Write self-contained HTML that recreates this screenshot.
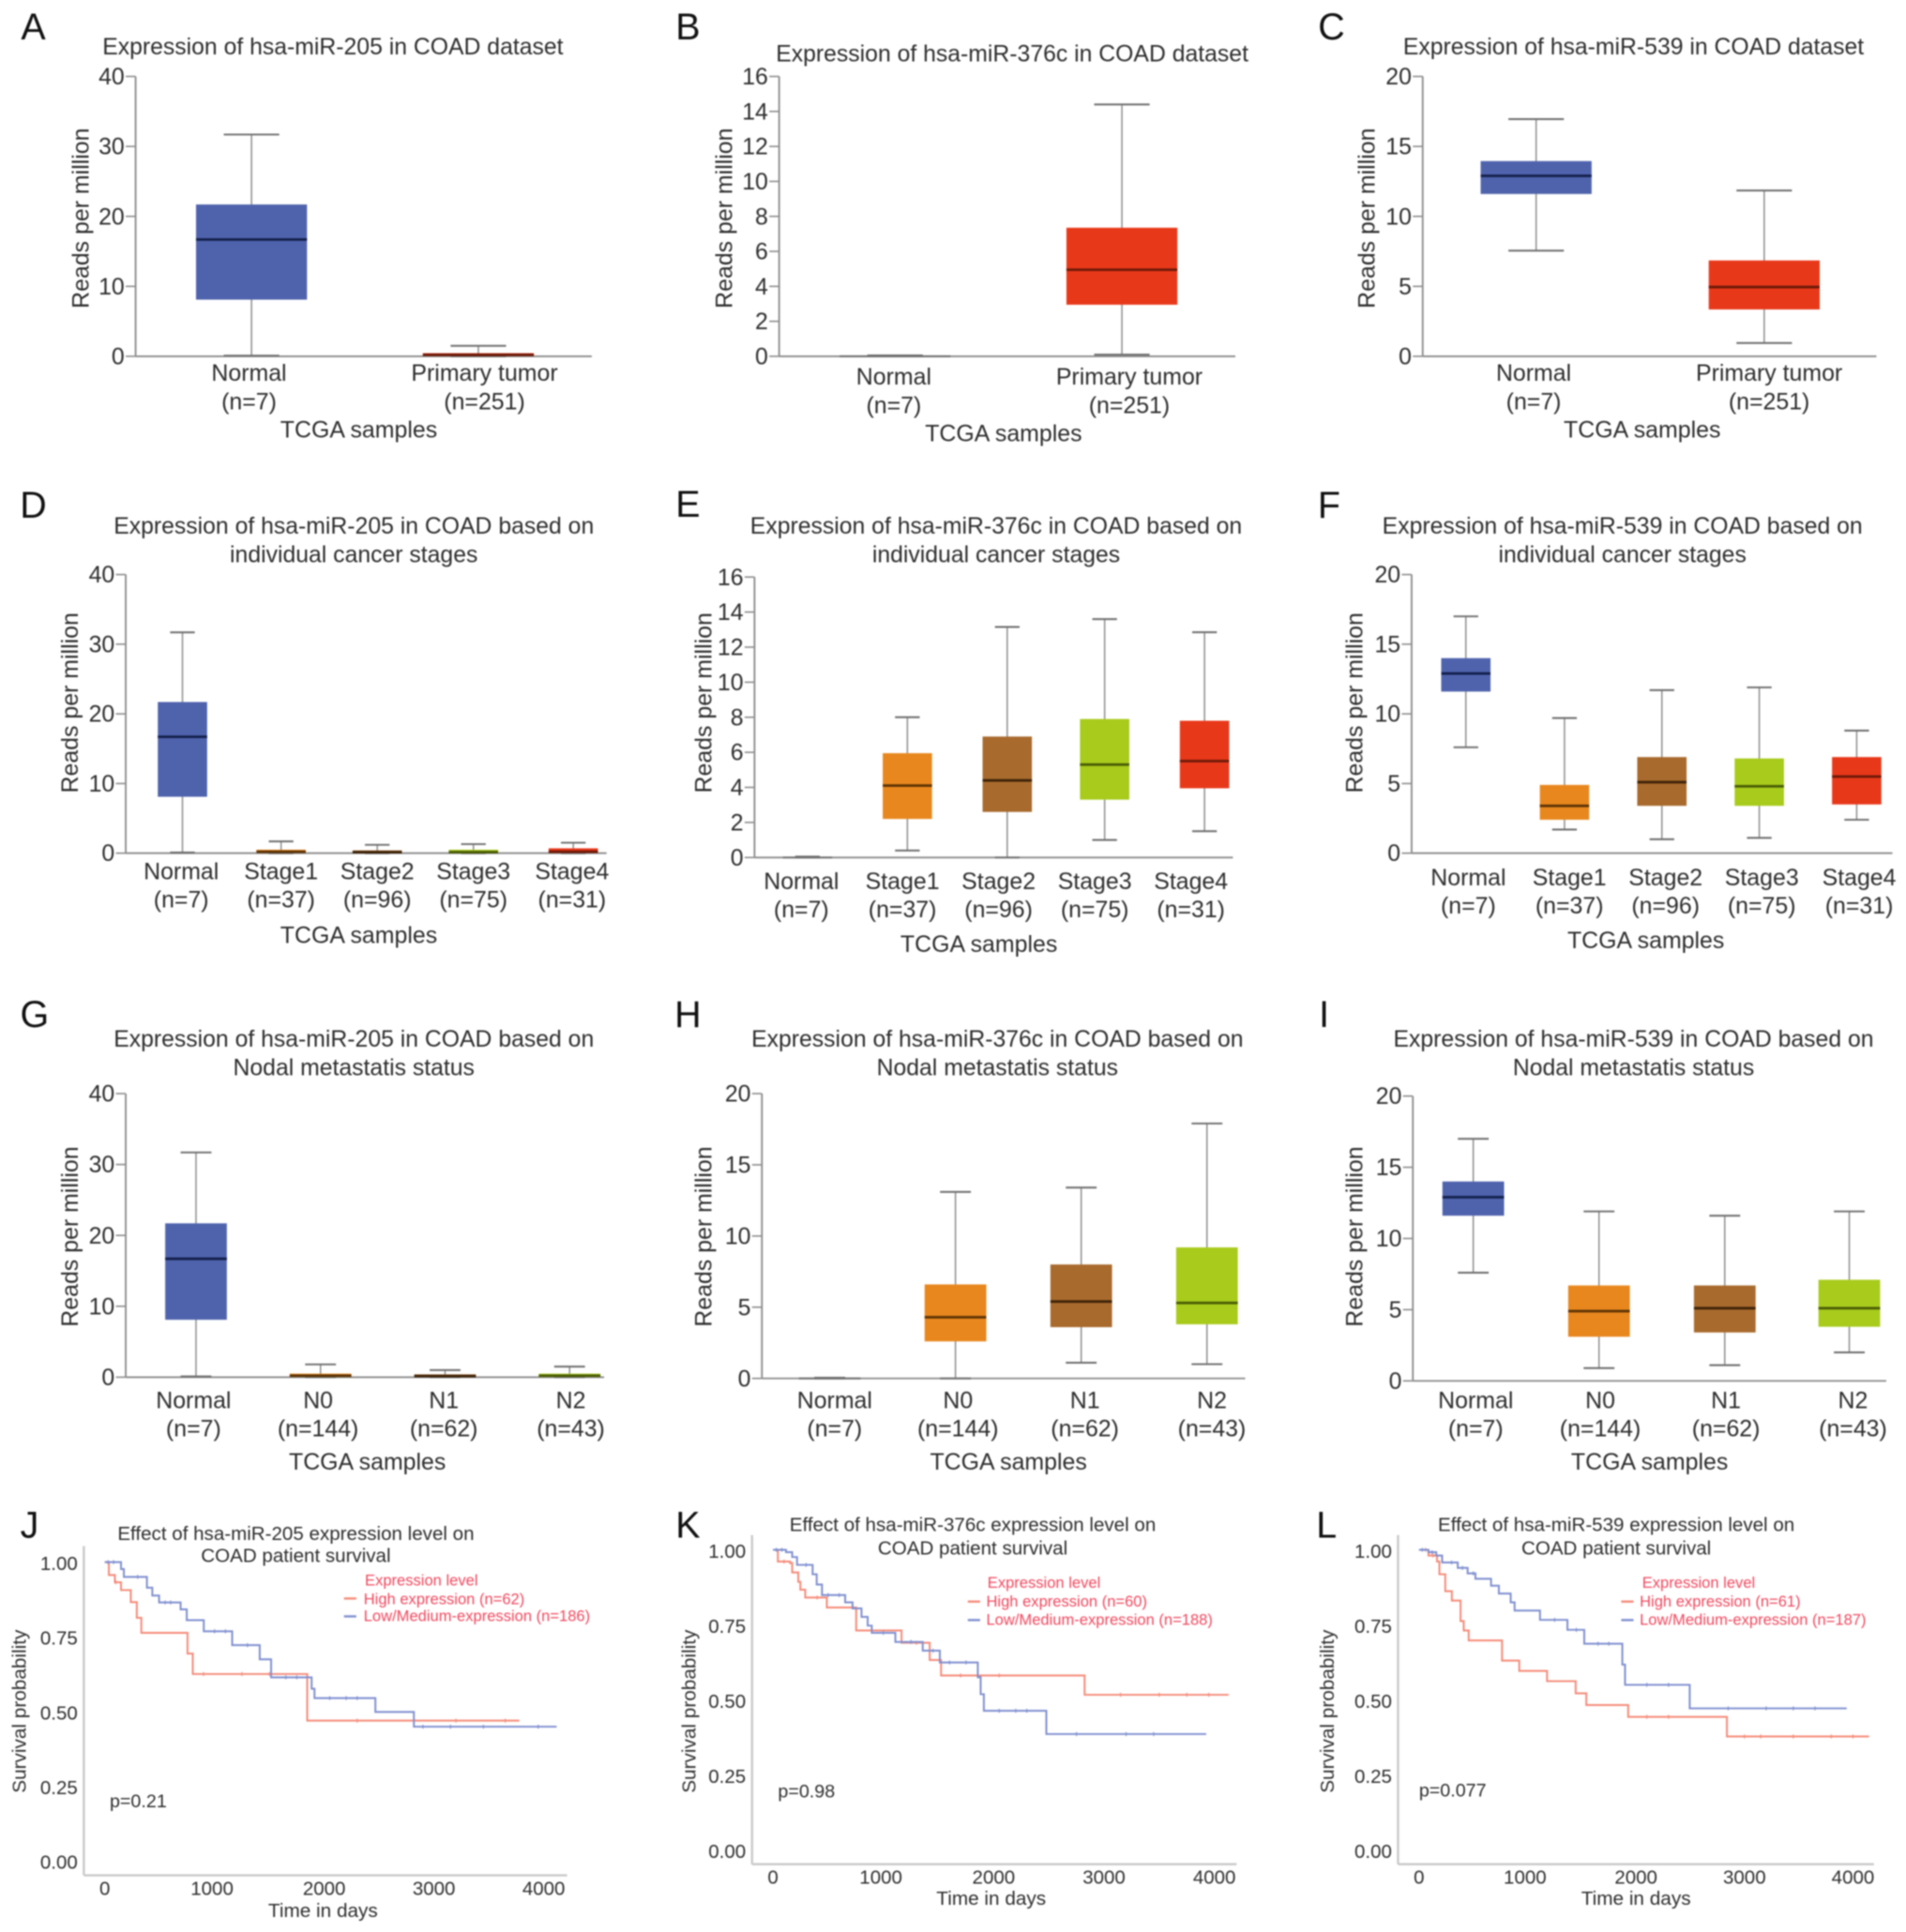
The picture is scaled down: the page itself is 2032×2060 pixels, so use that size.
<!DOCTYPE html>
<html lang="en">
<head>
<meta charset="utf-8">
<title>miRNA expression in COAD</title>
<style>
html,body{margin:0;padding:0;background:#fff;}
svg{display:block;filter:blur(0.7px);}
text{font-family:"Liberation Sans",sans-serif;fill:#2e2e2e;}
.letter{font-size:30px;fill:#111;text-anchor:middle;}
.title{font-size:18.85px;text-anchor:middle;}
.axt{font-size:18.95px;text-anchor:middle;}
.tick{font-size:18.9px;}
.stitle{font-size:15.65px;text-anchor:middle;}
.saxt{font-size:15.8px;text-anchor:middle;}
.stick{font-size:15.6px;}
.legt{font-size:12.6px;fill:#f0485e;}
.pval{font-size:15px;}
</style>
</head>
<body>
<svg id="figure" xmlns="http://www.w3.org/2000/svg" width="2032" height="2060" viewBox="0 0 1546 1567" preserveAspectRatio="none">
<rect x="0" y="0" width="1546" height="1567" fill="#fff"/>

<g id="panel-a">
<text class="letter" x="27" y="32">A</text>
<text class="title" x="270" y="44">Expression of hsa-miR-205 in COAD dataset</text>
<text class="axt" x="291" y="355">TCGA samples</text>
<text class="axt" x="72" y="177" transform="rotate(-90 72 177)">Reads per million</text>
</g>
<g id="panel-b">
<text class="letter" x="558" y="32">B</text>
<text class="title" x="821" y="50">Expression of hsa-miR-376c in COAD dataset</text>
<text class="axt" x="814" y="358">TCGA samples</text>
<text class="axt" x="594" y="177" transform="rotate(-90 594 177)">Reads per million</text>
</g>
<g id="panel-c">
<text class="letter" x="1080" y="32">C</text>
<text class="title" x="1325" y="44">Expression of hsa-miR-539 in COAD dataset</text>
<text class="axt" x="1332" y="355">TCGA samples</text>
<text class="axt" x="1115" y="177" transform="rotate(-90 1115 177)">Reads per million</text>
</g>

<g id="panel-d">
<text class="letter" x="27" y="420">D</text>
<text class="title" x="287" y="433">Expression of hsa-miR-205 in COAD based on</text>
<text class="title" x="287" y="456">individual cancer stages</text>
<text class="axt" x="291" y="765">TCGA samples</text>
<text class="axt" x="63" y="570" transform="rotate(-90 63 570)">Reads per million</text>
</g>
<g id="panel-e">
<text class="letter" x="558" y="419">E</text>
<text class="title" x="808" y="433">Expression of hsa-miR-376c in COAD based on</text>
<text class="title" x="808" y="456">individual cancer stages</text>
<text class="axt" x="794" y="772">TCGA samples</text>
<text class="axt" x="577" y="570" transform="rotate(-90 577 570)">Reads per million</text>
</g>
<g id="panel-f">
<text class="letter" x="1078" y="420">F</text>
<text class="title" x="1316" y="433">Expression of hsa-miR-539 in COAD based on</text>
<text class="title" x="1316" y="456">individual cancer stages</text>
<text class="axt" x="1335" y="769">TCGA samples</text>
<text class="axt" x="1105" y="570" transform="rotate(-90 1105 570)">Reads per million</text>
</g>

<g id="panel-g">
<text class="letter" x="28" y="833">G</text>
<text class="title" x="287" y="849">Expression of hsa-miR-205 in COAD based on</text>
<text class="title" x="287" y="872">Nodal metastatis status</text>
<text class="axt" x="298" y="1192">TCGA samples</text>
<text class="axt" x="63" y="1003" transform="rotate(-90 63 1003)">Reads per million</text>
</g>
<g id="panel-h">
<text class="letter" x="558" y="833">H</text>
<text class="title" x="809" y="849">Expression of hsa-miR-376c in COAD based on</text>
<text class="title" x="809" y="872">Nodal metastatis status</text>
<text class="axt" x="818" y="1192">TCGA samples</text>
<text class="axt" x="577" y="1003" transform="rotate(-90 577 1003)">Reads per million</text>
</g>
<g id="panel-i">
<text class="letter" x="1074" y="833">I</text>
<text class="title" x="1325" y="849">Expression of hsa-miR-539 in COAD based on</text>
<text class="title" x="1325" y="872">Nodal metastatis status</text>
<text class="axt" x="1338" y="1192">TCGA samples</text>
<text class="axt" x="1105" y="1003" transform="rotate(-90 1105 1003)">Reads per million</text>
</g>

<g id="panel-j">
<text class="letter" x="24" y="1247">J</text>
<text class="stitle" x="240" y="1249">Effect of hsa-miR-205 expression level on</text>
<text class="stitle" x="240" y="1267">COAD patient survival</text>
<text class="saxt" x="262" y="1555">Time in days</text>
<text class="saxt" x="21" y="1388" transform="rotate(-90 21 1388)">Survival probability</text>
<text class="pval" x="89" y="1466">p=0.21</text>
<g>
<text class="legt" x="296" y="1286">Expression level</text>
<line x1="279" y1="1296.5" x2="289" y2="1296.5" stroke="#f58a78" stroke-width="1.8"/>
<text class="legt" x="295" y="1301">High expression (n=62)</text>
<line x1="279" y1="1311" x2="289" y2="1311" stroke="#7f8fd0" stroke-width="1.8"/>
<text class="legt" x="295" y="1315">Low/Medium-expression (n=186)</text>
</g>
</g>
<g id="panel-k">
<text class="letter" x="558" y="1247">K</text>
<text class="stitle" x="789" y="1242">Effect of hsa-miR-376c expression level on</text>
<text class="stitle" x="789" y="1261">COAD patient survival</text>
<text class="saxt" x="804" y="1545">Time in days</text>
<text class="saxt" x="564" y="1388" transform="rotate(-90 564 1388)">Survival probability</text>
<text class="pval" x="631" y="1458">p=0.98</text>
<g>
<text class="legt" x="801" y="1288">Expression level</text>
<line x1="785" y1="1299" x2="795" y2="1299" stroke="#f58a78" stroke-width="1.8"/>
<text class="legt" x="800" y="1303">High expression (n=60)</text>
<line x1="785" y1="1314" x2="795" y2="1314" stroke="#7f8fd0" stroke-width="1.8"/>
<text class="legt" x="800" y="1318">Low/Medium-expression (n=188)</text>
</g>
</g>
<g id="panel-l">
<text class="letter" x="1076" y="1247">L</text>
<text class="stitle" x="1311" y="1242">Effect of hsa-miR-539 expression level on</text>
<text class="stitle" x="1311" y="1261">COAD patient survival</text>
<text class="saxt" x="1327" y="1545">Time in days</text>
<text class="saxt" x="1082" y="1388" transform="rotate(-90 1082 1388)">Survival probability</text>
<text class="pval" x="1151" y="1457">p=0.077</text>
<g>
<text class="legt" x="1332" y="1288">Expression level</text>
<line x1="1315" y1="1299" x2="1325" y2="1299" stroke="#f58a78" stroke-width="1.8"/>
<text class="legt" x="1330" y="1303">High expression (n=61)</text>
<line x1="1315" y1="1314" x2="1325" y2="1314" stroke="#7f8fd0" stroke-width="1.8"/>
<text class="legt" x="1330" y="1318">Low/Medium-expression (n=187)</text>
</g>
</g>
</svg>

<script>
// ---------- shared categories and tick labels ----------
const tumorCategories = ['Normal', 'Primary tumor'];
const tumorCounts = ['(n=7)', '(n=251)'];
const stageCategories = ['Normal', 'Stage1', 'Stage2', 'Stage3', 'Stage4'];
const stageCounts = ['(n=7)', '(n=37)', '(n=96)', '(n=75)', '(n=31)'];
const nodalCategories = ['Normal', 'N0', 'N1', 'N2'];
const nodalCounts = ['(n=7)', '(n=144)', '(n=62)', '(n=43)'];
const ticks40 = [0, 10, 20, 30, 40];
const ticks16 = [0, 2, 4, 6, 8, 10, 12, 14, 16];
const ticks20 = [0, 5, 10, 15, 20];
const survivalTicks = ['0.00', '0.25', '0.50', '0.75', '1.00'];
const timeTicks = [0, 1000, 2000, 3000, 4000];

// ---------- box plot values ----------
const aLow = [0.1, 0];        const aQ1 = [8.1, 0.05];    const aMedian = [16.7, 0.2];     const aQ3 = [21.7, 0.45];     const aHigh = [31.7, 1.5];
const bLow = [0, 0.1];        const bQ1 = [0, 2.95];      const bMedian = [0, 4.95];       const bQ3 = [0, 7.35];        const bHigh = [0.05, 14.4];
const cLow = [7.55, 0.95];    const cQ1 = [11.6, 3.35];   const cMedian = [12.9, 4.95];    const cQ3 = [13.95, 6.85];    const cHigh = [16.95, 11.85];

const dLow = [0.1, 0, 0, 0, 0];              const dQ1 = [8.1, 0.05, 0.05, 0.05, 0.05];  const dMedian = [16.7, 0.2, 0.15, 0.15, 0.2];  const dQ3 = [21.7, 0.5, 0.4, 0.5, 0.7];       const dHigh = [31.7, 1.7, 1.2, 1.3, 1.5];
const eLow = [0, 0.4, 0, 1, 1.5];            const eQ1 = [0, 2.2, 2.6, 3.3, 3.95];       const eMedian = [0, 4.1, 4.4, 5.3, 5.5];       const eQ3 = [0, 5.95, 6.9, 7.9, 7.8];         const eHigh = [0.05, 8, 13.15, 13.6, 12.85];
const fLow = [7.6, 1.7, 1, 1.1, 2.4];        const fQ1 = [11.6, 2.4, 3.4, 3.4, 3.5];     const fMedian = [12.9, 3.4, 5.1, 4.8, 5.5];    const fQ3 = [14, 4.9, 6.9, 6.8, 6.9];         const fHigh = [17, 9.7, 11.7, 11.9, 8.8];

const gLow = [0.1, 0, 0, 0];                 const gQ1 = [8.1, 0.05, 0.05, 0.05];        const gMedian = [16.7, 0.2, 0.15, 0.2];        const gQ3 = [21.7, 0.5, 0.4, 0.5];            const gHigh = [31.7, 1.8, 1, 1.5];
const hLow = [0, 0, 1.1, 1];                 const hQ1 = [0, 2.6, 3.6, 3.8];             const hMedian = [0, 4.3, 5.4, 5.3];            const hQ3 = [0, 6.6, 8, 9.2];                 const hHigh = [0.05, 13.1, 13.4, 17.9];
const iLow = [7.6, 0.9, 1.1, 2];             const iQ1 = [11.6, 3.1, 3.4, 3.8];          const iMedian = [12.9, 4.9, 5.1, 5.1];         const iQ3 = [14, 6.7, 6.7, 7.1];              const iHigh = [17, 11.9, 11.6, 11.9];

// ---------- survival curve values (step times and probabilities) ----------
const jHighTimes = [0, 37, 92, 148, 237, 292, 333, 754, 802, 1845, 3778];
const jHighProb  = [1, 0.957, 0.933, 0.907, 0.867, 0.815, 0.765, 0.696, 0.628, 0.473, 0.473];
const jHighCensors = [100, 900, 1250, 1500, 2300, 3200, 3650];
const jLowTimes = [0, 148, 174, 229, 384, 433, 495, 691, 747, 902, 1161, 1412, 1516, 1885, 1911, 2466, 2817, 4118];
const jLowProb  = [1, 0.977, 0.951, 0.951, 0.915, 0.889, 0.866, 0.843, 0.807, 0.77, 0.724, 0.677, 0.617, 0.579, 0.548, 0.502, 0.453, 0.453];
const jLowCensors = [30, 80, 300, 550, 600, 1000, 1100, 1300, 1650, 1750, 2050, 2200, 2300, 2900, 3150, 3450, 3950];

const kHighTimes = [0, 44, 155, 174, 229, 248, 292, 488, 754, 1165, 1420, 1523, 2824, 4129];
const kHighProb  = [1, 0.961, 0.956, 0.925, 0.894, 0.868, 0.842, 0.809, 0.733, 0.692, 0.635, 0.584, 0.52, 0.52];
const kHighCensors = [100, 400, 1300, 1700, 2050, 3150, 3500, 3750, 3950];
const kLowTimes = [0, 118, 174, 218, 359, 396, 444, 654, 721, 802, 858, 895, 1109, 1357, 1512, 1856, 1882, 1911, 2477, 3926];
const kLowProb  = [1, 0.992, 0.976, 0.95, 0.919, 0.885, 0.85, 0.826, 0.806, 0.778, 0.749, 0.725, 0.695, 0.666, 0.627, 0.578, 0.522, 0.467, 0.39, 0.39];
const kLowCensors = [30, 80, 300, 500, 600, 1000, 1250, 1450, 1600, 1750, 2050, 2200, 2300, 2750, 3200, 3450];

const lHighTimes = [0, 87, 166, 188, 242, 303, 383, 412, 458, 765, 924, 1180, 1444, 1542, 1928, 2838, 4148];
const lHighProb  = [1, 0.981, 0.961, 0.919, 0.863, 0.832, 0.764, 0.733, 0.7, 0.633, 0.599, 0.565, 0.525, 0.486, 0.447, 0.382, 0.382];
const lHighCensors = [60, 130, 2100, 2300, 3000, 3150, 3450, 3800, 4000];
const lLowTimes = [0, 87, 159, 213, 357, 448, 520, 664, 736, 845, 881, 1115, 1368, 1523, 1874, 1899, 2495, 3942];
const lLowProb  = [1, 0.992, 0.981, 0.958, 0.94, 0.922, 0.904, 0.881, 0.855, 0.826, 0.799, 0.768, 0.735, 0.689, 0.62, 0.553, 0.475, 0.475];
const lLowCensors = [30, 120, 300, 400, 500, 1250, 1450, 1650, 1750, 2100, 2300, 2850, 3200, 3450, 3650];

// ---------- colours ----------
const COLORS = {
  normal: ['#4f63ad', '#14204c'],
  tumor:  ['#e8381a', '#6e1a08'],
  orange: ['#e8871e', '#5c3305'],
  brown:  ['#a86a2d', '#3d2208'],
  green:  ['#a8cb1c', '#4a5c05'],
  red:    ['#e8381a', '#6e1a08']
};
const STAGE_FILL = ['normal', 'orange', 'brown', 'green', 'red'];
const NODAL_FILL = ['normal', 'orange', 'brown', 'green'];

const NS = 'http://www.w3.org/2000/svg';
function make(tag, attrs, parent) {
  const el = document.createElementNS(NS, tag);
  for (const k in attrs) el.setAttribute(k, attrs[k]);
  parent.appendChild(el);
  return el;
}

// ---------- box plot drawing ----------
function drawBoxPanel(p) {
  const group = document.getElementById('panel-' + p.id);
  const maxTick = p.ticks[p.ticks.length - 1];
  const yScale = v => p.bottom - (v / maxTick) * (p.bottom - p.top);

  const yAxis = make('line', {x1: p.ax, x2: p.ax, y1: p.top, y2: p.bottom, stroke: '#8c8c8c', 'stroke-width': 1.4}, group);
  
  

  p.ticks.forEach(t => {
    const mark = make('line', {x1: p.ax - 8, x2: p.ax, y1: yScale(t), y2: yScale(t), stroke: '#8c8c8c', 'stroke-width': 1.2}, group);
    
    
    const label = make('text', {class: 'tick', x: p.ax - 9, y: yScale(t) + 6.5, 'text-anchor': 'end'}, group);
    label.textContent = t;
    
    
  });

  const xAxis = make('line', {x1: p.ax, x2: p.xEnd, y1: p.bottom, y2: p.bottom, stroke: '#8c8c8c', 'stroke-width': 1.4}, group);
  
  

  p.categories.forEach((cat, i) => {
    const cx = p.centers[i];
    const halfBox = p.boxWidth / 2;
    const halfCap = p.boxWidth / 4;
    const pair = COLORS[p.fills[i]];
    const flat = p.q3[i] === p.q1[i];

    const whisker = make('line', {x1: cx, x2: cx, y1: yScale(p.high[i]), y2: yScale(p.low[i]), stroke: '#8a8a8a', 'stroke-width': 1.1}, group);
    
    

    const capHigh = make('line', {x1: cx - halfCap, x2: cx + halfCap, y1: yScale(p.high[i]), y2: yScale(p.high[i]), stroke: '#6e6e6e', 'stroke-width': 1.5}, group);
    
    

    const capLow = make('line', {x1: cx - halfCap, x2: cx + halfCap, y1: yScale(p.low[i]), y2: yScale(p.low[i]), stroke: '#6e6e6e', 'stroke-width': 1.5}, group);
    
    

    const box = make('rect', {x: cx - halfBox, width: p.boxWidth, y: yScale(p.q3[i]), height: Math.max(0, yScale(p.q1[i]) - yScale(p.q3[i])), fill: pair[0]}, group);
    
    

    const median = make('line', {x1: cx - halfBox, x2: cx + halfBox, y1: yScale(p.median[i]), y2: yScale(p.median[i]), stroke: flat ? '#6e6e6e' : pair[1], 'stroke-width': flat ? 1.5 : 2.1}, group);
    
    

    const name = make('text', {class: 'axt', x: p.labelX[i], y: p.labelY}, group);
    name.textContent = cat;
    
    

    const count = make('text', {class: 'axt', x: p.labelX[i], y: p.labelY + 23}, group);
    count.textContent = p.counts[i];
    
    
  });
}

const boxPanels = [
  {id:'a', categories:tumorCategories, counts:tumorCounts, ticks:ticks40, low:aLow, q1:aQ1, median:aMedian, q3:aQ3, high:aHigh, fills:['normal','tumor'],
   ax:110, top:62, bottom:289, xEnd:480, centers:[204,388], boxWidth:90, labelX:[202,393], labelY:309},
  {id:'b', categories:tumorCategories, counts:tumorCounts, ticks:ticks16, low:bLow, q1:bQ1, median:bMedian, q3:bQ3, high:bHigh, fills:['normal','tumor'],
   ax:632, top:62, bottom:289, xEnd:1002, centers:[726,910], boxWidth:90, labelX:[725,916], labelY:312},
  {id:'c', categories:tumorCategories, counts:tumorCounts, ticks:ticks20, low:cLow, q1:cQ1, median:cMedian, q3:cQ3, high:cHigh, fills:['normal','tumor'],
   ax:1154, top:62, bottom:289, xEnd:1522, centers:[1246,1431], boxWidth:90, labelX:[1244,1435], labelY:309},
  {id:'d', categories:stageCategories, counts:stageCounts, ticks:ticks40, low:dLow, q1:dQ1, median:dMedian, q3:dQ3, high:dHigh, fills:STAGE_FILL,
   ax:102, top:466, bottom:692, xEnd:492, centers:[148,228,306,384,465], boxWidth:40, labelX:[147,228,306,384,464], labelY:713},
  {id:'e', categories:stageCategories, counts:stageCounts, ticks:ticks16, low:eLow, q1:eQ1, median:eMedian, q3:eQ3, high:eHigh, fills:STAGE_FILL,
   ax:612, top:468, bottom:695.5, xEnd:1000, centers:[655,736,817,896,977], boxWidth:40, labelX:[650,732,810,888,966], labelY:721},
  {id:'f', categories:stageCategories, counts:stageCounts, ticks:ticks20, low:fLow, q1:fQ1, median:fMedian, q3:fQ3, high:fHigh, fills:STAGE_FILL,
   ax:1145, top:466, bottom:692, xEnd:1535, centers:[1189,1269,1348,1427,1506], boxWidth:40, labelX:[1191,1273,1351,1429,1508], labelY:718},
  {id:'g', categories:nodalCategories, counts:nodalCounts, ticks:ticks40, low:gLow, q1:gQ1, median:gMedian, q3:gQ3, high:gHigh, fills:NODAL_FILL,
   ax:102, top:887, bottom:1117, xEnd:490, centers:[159,260,361,462], boxWidth:50, labelX:[157,258,360,463], labelY:1142},
  {id:'h', categories:nodalCategories, counts:nodalCounts, ticks:ticks20, low:hLow, q1:hQ1, median:hMedian, q3:hQ3, high:hHigh, fills:NODAL_FILL,
   ax:618, top:887, bottom:1118, xEnd:1010, centers:[673,775,877,979], boxWidth:50, labelX:[677,777,880,983], labelY:1142},
  {id:'i', categories:nodalCategories, counts:nodalCounts, ticks:ticks20, low:iLow, q1:iQ1, median:iMedian, q3:iQ3, high:iHigh, fills:NODAL_FILL,
   ax:1146, top:889, bottom:1120, xEnd:1530, centers:[1195,1297,1399,1500], boxWidth:50, labelX:[1197,1298,1400,1503], labelY:1142}
];
boxPanels.forEach(drawBoxPanel);

// ---------- survival drawing ----------
function stepValue(times, probs, t) {
  let s = probs[0];
  for (let i = 0; i < times.length; i++) { if (times[i] <= t) s = probs[i]; }
  return s;
}
function drawSeries(p, key, times, probs, censors, color, xScale, yScale, group) {
  let d = 'M' + xScale(times[0]) + ' ' + yScale(probs[0]);
  for (let i = 1; i < times.length; i++) {
    d += 'H' + xScale(times[i]) + 'V' + yScale(probs[i]);
  }
  const line = make('path', {d: d, fill: 'none', stroke: color, 'stroke-width': 1.5}, group);
  
  
  censors.forEach(t => {
    const y = yScale(stepValue(times, probs, t));
    const mark = make('line', {x1: xScale(t), x2: xScale(t), y1: y - 1.6, y2: y + 1.6, stroke: color, 'stroke-width': 0.9}, group);
    
    
  });
}
function drawSurvivalPanel(p) {
  const group = document.getElementById('panel-' + p.id);
  const xScale = t => p.x0 + (t / 4000) * (p.x4000 - p.x0);
  const yScale = s => p.y0 - s * (p.y0 - p.y1);

  const yAxis = make('line', {x1: p.ax, x2: p.ax, y1: p.top, y2: p.axisY, stroke: '#c9c9c9', 'stroke-width': 1.8}, group);
  
  
  const xAxis = make('line', {x1: p.ax, x2: p.xEnd, y1: p.axisY, y2: p.axisY, stroke: '#c9c9c9', 'stroke-width': 1.8}, group);
  
  

  survivalTicks.forEach(t => {
    const s = parseFloat(t);
    const label = make('text', {class: 'stick', x: p.ax - 5, y: yScale(s) + 4.8 + s * 1.6, 'text-anchor': 'end'}, group);
    label.textContent = t;
    
    
  });
  timeTicks.forEach(t => {
    const label = make('text', {class: 'stick', x: xScale(t) - (t === 1000 ? 2 : 0), y: p.axisY + 16, 'text-anchor': 'middle'}, group);
    label.textContent = t;
    
    
  });

  drawSeries(p, 'high', p.highT, p.highS, p.highC, '#f58a78', xScale, yScale, group);
  drawSeries(p, 'low', p.lowT, p.lowS, p.lowC, '#7f8fd0', xScale, yScale, group);
}
const survivalPanels = [
  {id:'j', ax:68, top:1254, axisY:1521, xEnd:460, x0:85, x4000:441, y0:1511, y1:1267,
   highT:jHighTimes, highS:jHighProb, highC:jHighCensors, lowT:jLowTimes, lowS:jLowProb, lowC:jLowCensors},
  {id:'k', ax:610, top:1245, axisY:1512, xEnd:1003, x0:627, x4000:985, y0:1502, y1:1257,
   highT:kHighTimes, highS:kHighProb, highC:kHighCensors, lowT:kLowTimes, lowS:kLowProb, lowC:kLowCensors},
  {id:'l', ax:1134, top:1245, axisY:1512, xEnd:1520, x0:1151, x4000:1503, y0:1502, y1:1257,
   highT:lHighTimes, highS:lHighProb, highC:lHighCensors, lowT:lLowTimes, lowS:lLowProb, lowC:lLowCensors}
];
survivalPanels.forEach(drawSurvivalPanel);
</script>
</body>
</html>
